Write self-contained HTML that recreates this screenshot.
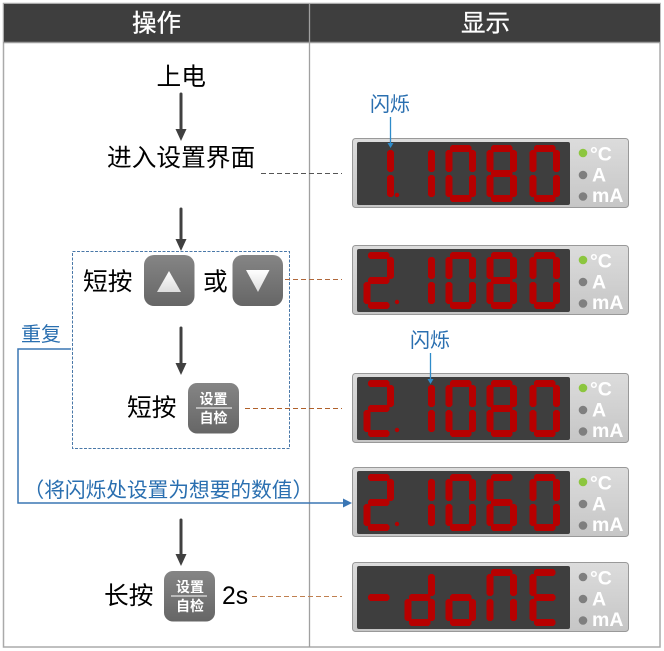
<!DOCTYPE html>
<html><head><meta charset="utf-8">
<style>
html,body{margin:0;padding:0;background:#fff}
svg{display:block}
text{font-family:"Liberation Sans","Noto Sans CJK SC",sans-serif}
.k{font-size:24.7px;fill:#000}
.b{font-size:20px;fill:#2a6fb0}
.u{font-family:"Liberation Sans",sans-serif;font-weight:bold;fill:#fff;font-size:19.5px}
.s{font-size:14px;font-weight:bold;fill:#fff;text-anchor:middle}
</style></head>
<body>
<svg xmlns="http://www.w3.org/2000/svg" width="664" height="651" viewBox="0 0 664 651">
<defs>
<linearGradient id="bt" x1="0" y1="0" x2="0" y2="1"><stop offset="0" stop-color="#858585"/><stop offset="1" stop-color="#666"/></linearGradient>
<linearGradient id="pn" x1="0" y1="0" x2="0" y2="1"><stop offset="0" stop-color="#dcdcdc"/><stop offset="1" stop-color="#c6c6c6"/></linearGradient>
<linearGradient id="tr" x1="0" y1="0" x2="0" y2="1"><stop offset="0" stop-color="#fff"/><stop offset="1" stop-color="#ddd"/></linearGradient>
<polygon id="a" points="4.500,2 6.500,0 24,0 26,2 26,5 24,7 6.500,7 4.500,5"/>
<polygon id="g" points="4.500,27 6.500,25 24,25 26,27 26,30 24,32 6.500,32 4.500,30"/>
<polygon id="d" points="4.500,52 6.500,50 24,50 26,52 26,55 24,57 6.500,57 4.500,55"/>
<polygon id="f" points="0,7 2,5 5,5 7,7 7,25 5,27 2,27 0,25"/>
<polygon id="b" points="23.500,7 25.500,5 28.500,5 30.500,7 30.500,25 28.500,27 25.500,27 23.500,25"/>
<polygon id="e" points="0,32 2,30 5,30 7,32 7,50 5,52 2,52 0,50"/>
<polygon id="c" points="23.500,32 25.500,30 28.500,30 30.500,32 30.500,50 28.500,52 25.500,52 23.500,50"/>
<g id="n1"><use href="#b"/><use href="#c"/></g>
<g id="n2"><use href="#a"/><use href="#b"/><use href="#g"/><use href="#e"/><use href="#d"/></g>
<g id="n0"><use href="#a"/><use href="#b"/><use href="#c"/><use href="#d"/><use href="#e"/><use href="#f"/></g>
<g id="n8"><use href="#n0"/><use href="#g"/></g>
<g id="n6"><use href="#a"/><use href="#f"/><use href="#g"/><use href="#e"/><use href="#c"/><use href="#d"/></g>
<g id="nd"><use href="#b"/><use href="#c"/><use href="#d"/><use href="#e"/><use href="#g"/></g>
<g id="no"><use href="#c"/><use href="#d"/><use href="#e"/><use href="#g"/></g>
<g id="nn"><use href="#a"/><use href="#b"/><use href="#c"/><use href="#e"/><use href="#f"/></g>
<g id="nE"><use href="#a"/><use href="#f"/><use href="#g"/><use href="#e"/><use href="#d"/></g>
<g id="pb">
<rect x="352.500" y="0.500" width="276" height="69" rx="3" fill="url(#pn)" stroke="#999"/>
<rect x="357" y="4" width="213" height="63" rx="2" fill="#3e3e3e"/>
<circle cx="583" cy="37" r="4.300" fill="#7f7f7f"/>
<circle cx="583" cy="58.500" r="4.300" fill="#7f7f7f"/>
</g>
</defs>

<!-- frame -->
<rect x="3.500" y="3.500" width="656.500" height="643.500" fill="#fff" stroke="#aaa" stroke-width="1.500"/>
<rect x="4" y="4" width="656" height="38" fill="#3e3e3e"/>
<line x1="3" y1="42.500" x2="660" y2="42.500" stroke="#9c9c9c" stroke-width="1.500"/>
<line x1="309.500" y1="4" x2="309.500" y2="647" stroke="#a0a0a0" stroke-width="1.300"/>
<text x="156.500" y="31.500" text-anchor="middle" fill="#fff" font-size="24.500" stroke="#fff" stroke-width="0.300">操作</text>
<text x="485.500" y="31.500" text-anchor="middle" fill="#fff" font-size="24.500" stroke="#fff" stroke-width="0.300">显示</text>

<!-- left text -->
<text class="k" x="156.500" y="85">上电</text>
<text class="k" x="107" y="166">进入设置界面</text>
<text class="k" x="83" y="290">短按</text>
<text class="k" x="203" y="290">或</text>
<text class="k" x="127" y="416">短按</text>
<text class="k" x="104" y="604">长按</text>
<text class="k" x="222" y="604" style="font-family:'Liberation Sans',sans-serif">2s</text>

<!-- arrows -->
<g stroke="#404040" stroke-width="3" stroke-linecap="round">
<line x1="181" y1="94" x2="181" y2="130"/>
<line x1="181" y1="209" x2="181" y2="240"/>
<line x1="181" y1="328" x2="181" y2="364"/>
<line x1="181" y1="520" x2="181" y2="555"/>
</g>
<g fill="#404040">
<polygon points="175.500,129 186.500,129 181,141"/>
<polygon points="175.500,239 186.500,239 181,251"/>
<polygon points="175.500,363 186.500,363 181,375"/>
<polygon points="175.500,554 186.500,554 181,566"/>
</g>

<!-- dashed box -->
<rect x="72.500" y="251.500" width="217" height="197" fill="none" stroke="#4a78a8" stroke-dasharray="3 1.500"/>

<!-- buttons -->
<rect x="144" y="255" width="50.500" height="51" rx="10" fill="url(#bt)"/>
<polygon points="157,292 181,292 169,271" fill="url(#tr)"/>
<rect x="232.500" y="255" width="50.500" height="51" rx="10" fill="url(#bt)"/>
<polygon points="246,270 269.500,270 258,292" fill="url(#tr)"/>
<rect x="188" y="383" width="51" height="50.500" rx="9" fill="url(#bt)"/>
<text class="s" x="213.500" y="404">设置</text>
<line x1="196" y1="408" x2="232" y2="408" stroke="#fff" stroke-width="1"/>
<text class="s" x="213.500" y="423">自检</text>
<rect x="164" y="571" width="51" height="50.500" rx="9" fill="url(#bt)"/>
<text class="s" x="190" y="592">设置</text>
<line x1="171" y1="596" x2="207" y2="596" stroke="#fff" stroke-width="1"/>
<text class="s" x="190" y="611">自检</text>

<!-- dashed connectors -->
<line x1="261" y1="173.500" x2="342" y2="173.500" stroke="#555" stroke-dasharray="5 3"/>
<line x1="285" y1="279.500" x2="342" y2="279.500" stroke="#b0673a" stroke-dasharray="5 3"/>
<line x1="245" y1="408.500" x2="342" y2="408.500" stroke="#b0602a" stroke-dasharray="5 3"/>
<line x1="252" y1="596.500" x2="342" y2="596.500" stroke="#c08050" stroke-dasharray="5 3"/>

<!-- blue -->
<text class="b" x="21" y="341">重复</text>
<polyline points="71,349 18,349 18,503 346,503" fill="none" stroke="#3a76b4" stroke-width="1.500"/>
<polygon points="343,498.500 343,507.500 352,503" fill="#3a76b4"/>
<text class="b" x="23.500" y="497" style="font-size:20.700px">（将闪烁处设置为想要的数值）</text>
<text class="b" x="370" y="111">闪烁</text>
<text class="b" x="410" y="347">闪烁</text>

<!-- panel 1 -->
<g transform="translate(0,138)"><use href="#pb"/><circle cx="583" cy="15" r="4.300" fill="#8cc63f"/>
<text class="u" x="590" y="22.500">°C</text><text class="u" x="592" y="43.500">A</text><text class="u" x="592" y="64">mA</text>
<g fill="#b70000"><use href="#n1" x="363.500" y="7"/><circle cx="397" cy="57" r="2.200"/><use href="#n1" x="404.500" y="7"/><use href="#n0" x="445.500" y="7"/><use href="#n8" x="486.500" y="7"/><use href="#n0" x="529.500" y="7"/></g></g>
<!-- panel 2 -->
<g transform="translate(0,245)"><use href="#pb"/><circle cx="583" cy="15" r="4.300" fill="#8cc63f"/>
<text class="u" x="590" y="22.500">°C</text><text class="u" x="592" y="43.500">A</text><text class="u" x="592" y="64">mA</text>
<g fill="#b70000"><use href="#n2" x="363.500" y="7"/><circle cx="397" cy="57" r="2.200"/><use href="#n1" x="404.500" y="7"/><use href="#n0" x="445.500" y="7"/><use href="#n8" x="486.500" y="7"/><use href="#n0" x="529.500" y="7"/></g></g>
<!-- panel 3 -->
<g transform="translate(0,373)"><use href="#pb"/><circle cx="583" cy="15" r="4.300" fill="#8cc63f"/>
<text class="u" x="590" y="22.500">°C</text><text class="u" x="592" y="43.500">A</text><text class="u" x="592" y="64">mA</text>
<g fill="#b70000"><use href="#n2" x="363.500" y="7"/><circle cx="397" cy="57" r="2.200"/><use href="#n1" x="404.500" y="7"/><use href="#n0" x="445.500" y="7"/><use href="#n8" x="486.500" y="7"/><use href="#n0" x="529.500" y="7"/></g></g>
<!-- panel 4 -->
<g transform="translate(0,467)"><use href="#pb"/><circle cx="583" cy="15" r="4.300" fill="#8cc63f"/>
<text class="u" x="590" y="22.500">°C</text><text class="u" x="592" y="43.500">A</text><text class="u" x="592" y="64">mA</text>
<g fill="#b70000"><use href="#n2" x="363.500" y="7"/><circle cx="397" cy="57" r="2.200"/><use href="#n1" x="404.500" y="7"/><use href="#n0" x="445.500" y="7"/><use href="#n6" x="486.500" y="7"/><use href="#n0" x="529.500" y="7"/></g></g>
<!-- panel 5 -->
<g transform="translate(0,562)"><use href="#pb"/><circle cx="583" cy="15" r="4.300" fill="#7f7f7f"/>
<text class="u" x="590" y="22.500">°C</text><text class="u" x="592" y="43.500">A</text><text class="u" x="592" y="64">mA</text>
<g fill="#b70000"><use href="#g" x="363.500" y="7"/><use href="#nd" x="404.500" y="7"/><use href="#no" x="445.500" y="7"/><use href="#nn" x="486.500" y="7"/><use href="#nE" x="529.500" y="7"/></g></g>

<!-- blink arrows on top of panels -->
<line x1="390.500" y1="117" x2="390.500" y2="144" stroke="#2e8bc9" stroke-width="1.300"/>
<polygon points="387.500,143 393.500,143 390.500,148" fill="#2e8bc9"/>
<line x1="430.500" y1="353" x2="430.500" y2="380" stroke="#2e8bc9" stroke-width="1.300"/>
<polygon points="427.500,379 433.500,379 430.500,384" fill="#2e8bc9"/>
</svg>
</body></html>
